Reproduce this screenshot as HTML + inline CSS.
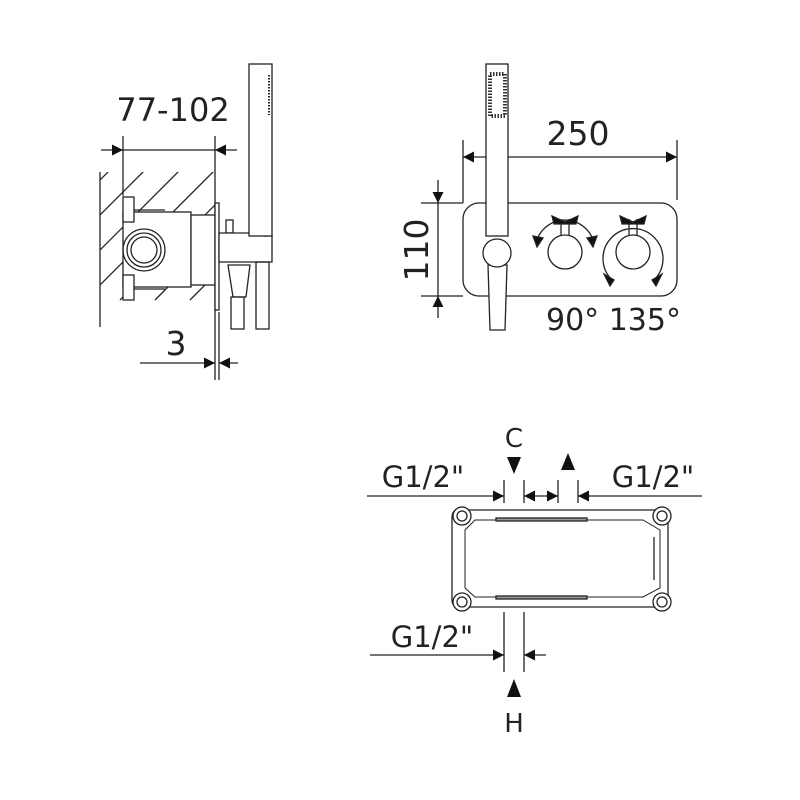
<!DOCTYPE html>
<html><head><style>body{margin:0;background:#fff}svg{display:block}text{font-family:"DejaVu Sans","Liberation Sans",sans-serif;fill:#222}</style></head><body>
<svg width="800" height="800" viewBox="0 0 800 800" xmlns="http://www.w3.org/2000/svg">
<defs>
<marker id="ar" viewBox="0 0 10 10" refX="10" refY="5" markerWidth="18" markerHeight="11" markerUnits="userSpaceOnUse" orient="auto"><path d="M0,0L10,5L0,10z" fill="#111"/></marker>
<clipPath id="wall"><path d="M100,172 L215,172 L215,327 L100,327z"/></clipPath>
</defs>
<g stroke="#222" stroke-width="1.3" fill="none">
<!-- LEFT VIEW -->
<line x1="101" y1="150" x2="123" y2="150" marker-end="url(#ar)"/>
<line x1="237" y1="150" x2="215" y2="150" marker-end="url(#ar)"/>
<line x1="123" y1="150" x2="215" y2="150"/>
<line x1="123" y1="136" x2="123" y2="196"/>
<line x1="215" y1="136" x2="215" y2="380"/>
<line x1="100" y1="172" x2="100" y2="327"/>
<g clip-path="url(#wall)">
<path d="M280,0l-300,300 M315,0l-300,300 M350,0l-300,300 M385,0l-300,300 M420,0l-300,300 M455,0l-300,300 M490,0l-300,300 M525,0l-300,300 M560,0l-300,300"/>
</g>
<rect x="123" y="212" width="68" height="75" fill="#fff"/>
<rect x="191" y="215" width="24" height="70" fill="#fff"/>
<rect x="123" y="197" width="11" height="25" fill="#fff"/>
<rect x="123" y="275" width="11" height="25" fill="#fff"/>
<line x1="134" y1="210" x2="165" y2="210"/><line x1="134" y1="289" x2="165" y2="289"/>
<circle cx="144" cy="250" r="21"/><circle cx="144" cy="250" r="17"/><circle cx="144" cy="250" r="13"/>
<rect x="215" y="203" width="4" height="107" fill="#fff"/>
<rect x="226" y="220" width="7" height="13"/>
<path d="M219,233 L255,233 Q262,238 272,235 L272,262 L219,262z" fill="#fff"/>
<rect x="249" y="64" width="23" height="172" fill="#fff"/>
<line x1="269" y1="75" x2="269" y2="115" stroke-dasharray="1.5 1.5" stroke-width="2"/>
<path d="M228,265 L250,265 L246,297 L233,297z" fill="#fff"/>
<rect x="231" y="297" width="13" height="32"/>
<rect x="256" y="262" width="13" height="67"/>
<line x1="140" y1="363" x2="215" y2="363" marker-end="url(#ar)"/>
<line x1="238" y1="363" x2="219" y2="363" marker-end="url(#ar)"/>
<line x1="219" y1="312" x2="219" y2="380"/>

<!-- FRONT VIEW -->
<line x1="463" y1="140" x2="463" y2="203"/>
<line x1="421" y1="203" x2="463" y2="203"/>
<line x1="421" y1="296" x2="463" y2="296"/>
<line x1="677" y1="140" x2="677" y2="200"/>
<line x1="570" y1="157" x2="463" y2="157" marker-end="url(#ar)"/>
<line x1="570" y1="157" x2="677" y2="157" marker-end="url(#ar)"/>
<line x1="438" y1="180" x2="438" y2="203" marker-end="url(#ar)"/>
<line x1="438" y1="318" x2="438" y2="296" marker-end="url(#ar)"/>
<line x1="438" y1="203" x2="438" y2="296"/>
<rect x="463" y="203" width="214" height="93" rx="16"/>
<rect x="486" y="64" width="22" height="172" fill="#fff"/>
<rect x="490" y="74" width="15" height="42" fill="none" stroke="#333" stroke-width="4" stroke-dasharray="1.5 1.5"/>
<path d="M488,265 L507,265 L505,330 L490,330z" fill="#fff"/>
<circle cx="497" cy="253" r="14" fill="#fff"/>
<circle cx="565" cy="252" r="17"/>
<circle cx="633" cy="252" r="17"/>
<line x1="561" y1="219" x2="561" y2="235"/><line x1="569" y1="219" x2="569" y2="235"/>
<line x1="629" y1="219" x2="629" y2="235"/><line x1="637" y1="219" x2="637" y2="235"/>
<path d="M538,237 A30,30 0 0 1 592,237"/>
<path d="M612,280 A30,30 0 1 1 654,280"/>
<path d="M552,216 L565,222 L578,216 L576,224 L554,224z" fill="#111"/>
<path d="M620,216 L633,222 L646,216 L644,224 L622,224z" fill="#111"/>
<path d="M533,236 l10,2 l-6,9z M597,236 l-10,2 l6,9z" fill="#111"/>
<path d="M604,274 l10,6 l-4,6z M662,274 l-10,6 l4,6z" fill="#111"/>

<!-- BOTTOM VIEW -->
<line x1="367" y1="496" x2="504" y2="496" marker-end="url(#ar)"/>
<line x1="540" y1="496" x2="524" y2="496" marker-end="url(#ar)"/>
<line x1="540" y1="496" x2="558" y2="496" marker-end="url(#ar)"/>
<line x1="702" y1="496" x2="578" y2="496" marker-end="url(#ar)"/>
<line x1="504" y1="480" x2="504" y2="503"/><line x1="524" y1="480" x2="524" y2="503"/>
<line x1="558" y1="480" x2="558" y2="503"/><line x1="578" y1="480" x2="578" y2="503"/>
<path d="M458,510 L662,510 Q670,512 668,520 L668,600 Q668,607 660,607 L460,607 Q452,607 452,600 L452,518 Q452,510 458,510z"/>
<path d="M475,520 L643,520 L660,530 L660,588 L643,597 L475,597 L465,588 L465,530z" stroke-width="1"/>
<rect x="496" y="518" width="91" height="3" fill="#999"/>
<rect x="496" y="596" width="91" height="3" fill="#999"/>
<line x1="654" y1="537" x2="654" y2="580"/>
<circle cx="462" cy="516" r="9" fill="#fff"/><circle cx="462" cy="516" r="5"/>
<circle cx="662" cy="516" r="9" fill="#fff"/><circle cx="662" cy="516" r="5"/>
<circle cx="462" cy="602" r="9" fill="#fff"/><circle cx="462" cy="602" r="5"/>
<circle cx="662" cy="602" r="9" fill="#fff"/><circle cx="662" cy="602" r="5"/>
<line x1="504" y1="612" x2="504" y2="672"/><line x1="524" y1="612" x2="524" y2="672"/>
<line x1="370" y1="655" x2="504" y2="655" marker-end="url(#ar)"/>
<line x1="546" y1="655" x2="524" y2="655" marker-end="url(#ar)"/>
</g>
<g fill="#111">
<path d="M507,457 L521,457 L514,474z"/>
<path d="M561,470 L575,470 L568,453z"/>
<path d="M507,697 L521,697 L514,679z"/>
</g>
<text x="173" y="121" font-size="32" text-anchor="middle">77-102</text>
<text x="176" y="355" font-size="33" text-anchor="middle">3</text>
<text x="578" y="145" font-size="33" text-anchor="middle">250</text>
<text transform="translate(428,250) rotate(-90)" font-size="33" text-anchor="middle">110</text>
<text x="546" y="330" font-size="30">90° 135°</text>
<text x="514" y="447" font-size="26" text-anchor="middle">C</text>
<text x="423" y="487" font-size="29" text-anchor="middle">G1/2"</text>
<text x="653" y="487" font-size="29" text-anchor="middle">G1/2"</text>
<text x="432" y="647" font-size="29" text-anchor="middle">G1/2"</text>
<text x="514" y="732" font-size="26" text-anchor="middle">H</text>
</svg>
</body></html>
